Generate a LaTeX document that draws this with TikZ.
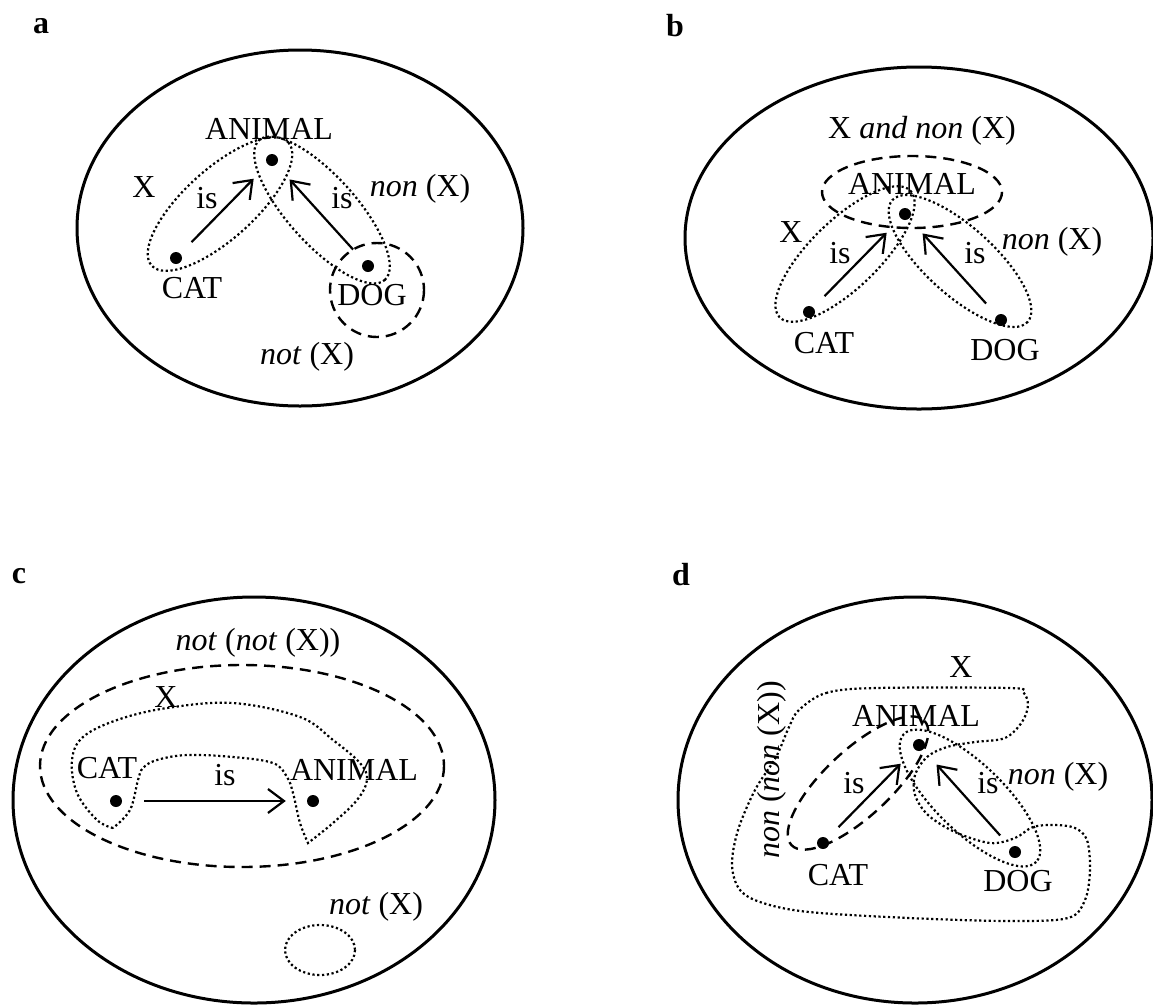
\documentclass[tikz,border=0pt]{standalone}
\usepackage{fontspec}
\setmainfont{Liberation Serif}
\usetikzlibrary{arrows.meta}
\begin{document}
\begin{tikzpicture}[x=1pt,y=-1pt,
    every node/.style={inner sep=0pt, font=\fontsize{32}{38}\selectfont},
    panel/.style={font=\fontsize{32}{38}\selectfont\bfseries},
    frame/.style={line width=3pt},
    dotline/.style={line width=2.2pt, dash pattern=on 2.2pt off 2.6pt},
    dashline/.style={line width=2.4pt, dash pattern=on 11pt off 7pt},
    blackdot/.style={circle, fill=black, minimum size=12pt},
    isarrow/.style={line width=2.2pt, -{Straight Barb[length=16pt,width=24pt]}, shorten <=16pt, shorten >=20pt}]
\useasboundingbox (0,0) rectangle (1153,1005);
% a
\node [panel] (la) at (41,26) {a};
\draw [frame] (300,228) ellipse [x radius=223, y radius=178];
\node [blackdot] (animalA) at (272,160) {};
\node [blackdot] (catA) at (176,258) {};
\node [blackdot] (dogA) at (368,266) {};
\draw [dotline, rotate around={42:(220,204)}] (220,204) ellipse [x radius=92, y radius=35];
\draw [dotline, rotate around={-48:(322,210)}] (322,210) ellipse [x radius=94, y radius=34];
\draw [dashline] (377,290) circle [radius=47];
\draw [isarrow] (catA) -- (animalA);
\draw [isarrow] (dogA) -- (animalA);
\node (animalAlab) at (269,129) {ANIMAL};
\node (catAlab) at (192,288) {CAT};
\node (dogAlab) at (372,295) {DOG};
\node (xA) at (144,187) {X};
\node (isA1) at (207,198) {is};
\node (isA2) at (342,198) {is};
\node (nonA) at (420,189) {\textit{non} (X)};
\node (notA) at (307,357) {\textit{not} (X)};
% b
\node [panel] (lb) at (675,26) {b};
\draw [frame] (919,238) ellipse [x radius=234, y radius=171];
\node [blackdot] (animalB) at (905,214) {};
\node [blackdot] (catB) at (809,312) {};
\node [blackdot] (dogB) at (1001,320) {};
\draw [dashline] (912,192) ellipse [x radius=90, y radius=36];
\draw [dotline, rotate around={44:(845,254)}] (845,254) ellipse [x radius=91, y radius=34];
\draw [dotline, rotate around={-42:(960,261)}] (960,261) ellipse [x radius=91, y radius=34];
\draw [isarrow] (catB) -- (animalB);
\draw [isarrow] (dogB) -- (animalB);
\node (bothB) at (922,131) {X \textit{and non} (X)};
\node (animalBlab) at (912,184) {ANIMAL};
\node (catBlab) at (824,343) {CAT};
\node (dogBlab) at (1005,350) {DOG};
\node (xB) at (791,232) {X};
\node (isB1) at (840,253) {is};
\node (isB2) at (975,253) {is};
\node (nonB) at (1052,242) {\textit{non} (X)};
% c
\node [panel] (lc) at (19,576) {c};
\draw [frame] (254,800) ellipse [x radius=241, y radius=203];
\node [blackdot] (catC) at (116,801) {};
\node [blackdot] (animalC) at (313,801) {};
\draw [dashline] (242,766) ellipse [x radius=202, y radius=101];
\draw [dotline] plot [smooth, tension=0.6] coordinates {(113,828) (97,820) (77,793) (72,760) (83,737) (117,720) (167,708) (233,703) (300,717) (333,740) (360,763) (367,780) (357,800) (333,823) (308,843)}
  -- plot [smooth, tension=0.6] coordinates {(308,843) (300,823) (293,793) (287,777) (273,763) (233,757) (187,755) (157,760) (143,768) (138,780) (130,810) (113,828)};
\draw [dotline] (320,950) ellipse [x radius=35, y radius=25];
\draw [isarrow, shorten <=22pt, shorten >=21pt] (catC) -- (animalC);
\node (notnotC) at (258,643) {\textit{not} (\textit{not} (X))};
\node (xC) at (166,697) {X};
\node (catClab) at (107,768) {CAT};
\node (isC) at (225,775) {is};
\node (animalClab) at (354,770) {ANIMAL};
\node (notC) at (376,907) {\textit{not} (X)};
% d
\node [panel] (ld) at (681,575) {d};
\draw [frame] (915,800) ellipse [x radius=237, y radius=203];
\node [blackdot] (animalD) at (919,745) {};
\node [blackdot] (catD) at (823,843) {};
\node [blackdot] (dogD) at (1015,852) {};
\draw [dashline, rotate around={43:(858,783)}] (858,783) ellipse [x radius=91, y radius=33];
\draw [dotline, rotate around={-44:(970,798)}] (970,798) ellipse [x radius=92, y radius=34];
\draw [dotline] plot [smooth cycle, tension=0.55] coordinates {(799,710) (826,693) (876,688) (1009,688) (1023,692) (1028,705) (1022,722) (1005,738) (975,742) (947,747) (927,757) (915,775) (915,795) (928,815) (955,832) (990,843) (1015,838) (1033,827) (1055,825) (1075,828) (1087,840) (1090,870) (1085,900) (1068,918) (1009,921) (909,918) (809,912) (763,903) (740,890) (732,865) (738,830) (755,790) (776,757) (789,727)};
\draw [isarrow] (catD) -- (animalD);
\draw [isarrow] (dogD) -- (animalD);
\node (xD) at (961,667) {X};
\node (animalDlab) at (916,716) {ANIMAL};
\node (isD1) at (854,783) {is};
\node (isD2) at (988,783) {is};
\node (nonD) at (1058,777) {\textit{non} (X)};
\node (catDlab) at (838,875) {CAT};
\node (dogDlab) at (1018,881) {DOG};
\node [rotate=90] (nonnonD) at (772,770) {\textit{non} (\textit{non} (X))};
\end{tikzpicture}
\end{document}
